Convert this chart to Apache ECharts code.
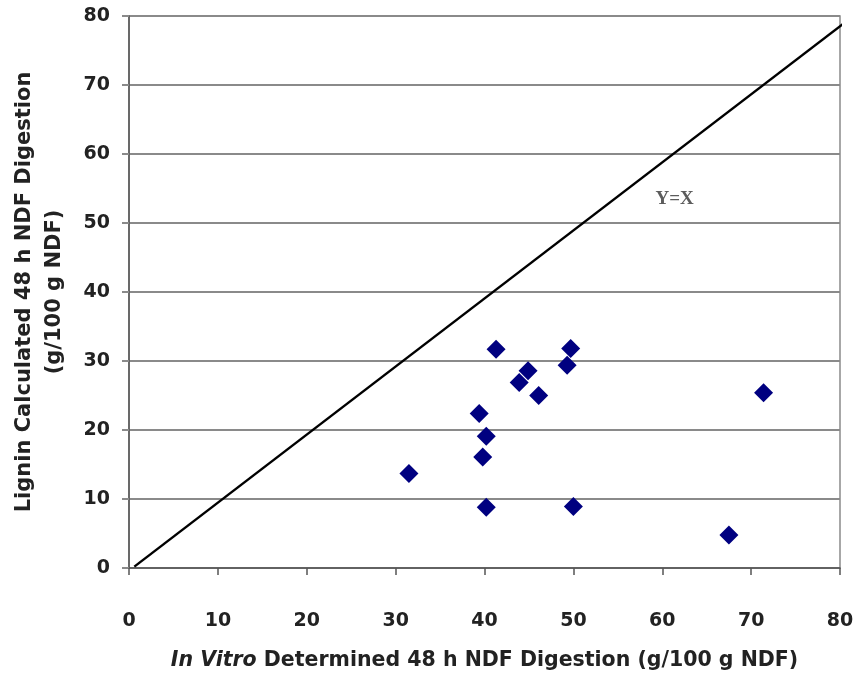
<!DOCTYPE html>
<html>
<head>
<meta charset="utf-8">
<script src="https://cdn.jsdelivr.net/npm/echarts@6/dist/echarts.min.js"></script>
<style>
html,body{margin:0;padding:0;background:#fff;}
#chart{width:856px;height:679px;}
</style>
</head>
<body>
<div id="chart"></div>
<script>
// In vitro determined 48 h NDF digestion (x) vs lignin calculated (y)
var inVitro = [31.5, 39.4, 40.2, 39.8, 40.2, 41.3, 43.9, 44.9, 46.1, 49.3, 49.7, 50.0, 67.5, 71.4];
var ligninCalc = [13.7, 22.4, 19.1, 16.1, 8.8, 31.7, 26.9, 28.6, 25.0, 29.4, 31.8, 8.9, 4.8, 25.4];
var identityX = [0.6, 80.6];
var identityY = [0.2, 79.1];
var axisTicks = [0, 10, 20, 30, 40, 50, 60, 70, 80];
var lineLabel = 'Y=X';
var xTitleItalic = 'In Vitro';
var xTitleRest = ' Determined 48 h NDF Digestion (g/100 g NDF)';
var yTitle = 'Lignin Calculated 48 h NDF Digestion\n(g/100 g NDF)';

var points = inVitro.map(function (v, i) { return [v, ligninCalc[i]]; });
var identity = identityX.map(function (v, i) { return [v, identityY[i]]; });
var FONT = 'DejaVu Sans';

var chart = echarts.init(document.getElementById('chart'));
chart.setOption({
  animation: false,
  backgroundColor: '#ffffff',
  grid: {
    left: 129, right: 16, top: 16, bottom: 111,
    containLabel: false, outerBoundsMode: 'none',
    show: true, borderColor: '#8a8a8a', borderWidth: 1.5, backgroundColor: 'transparent'
  },
  xAxis: {
    type: 'value', min: axisTicks[0], max: axisTicks[axisTicks.length - 1], interval: 10,
    axisLine: { show: true, onZero: false, lineStyle: { color: '#555', width: 1.5 } },
    axisTick: { show: true, inside: false, length: 7, lineStyle: { color: '#555', width: 1.5 } },
    splitLine: { show: false },
    axisLabel: { margin: 44, fontFamily: FONT, fontWeight: 'bold', fontSize: 19, color: '#222' },
    name: '{i|' + xTitleItalic + '}' + xTitleRest,
    nameLocation: 'middle', nameGap: 82,
    nameTextStyle: {
      fontFamily: FONT, fontWeight: 'bold', fontSize: 20.5, color: '#222',
      rich: { i: { fontFamily: FONT, fontWeight: 'bold', fontStyle: 'italic', fontSize: 20.5, color: '#222' } }
    }
  },
  yAxis: {
    type: 'value', min: axisTicks[0], max: axisTicks[axisTicks.length - 1], interval: 10,
    axisLine: { show: true, onZero: false, lineStyle: { color: '#555', width: 1.5 } },
    axisTick: { show: true, inside: false, length: 7, lineStyle: { color: '#8a8a8a', width: 2 } },
    splitLine: { show: true, lineStyle: { color: '#8a8a8a', width: 2 } },
    axisLabel: { margin: 19, fontFamily: FONT, fontWeight: 'bold', fontSize: 19, color: '#222' },
    name: yTitle,
    nameLocation: 'middle', nameGap: 59, nameRotate: 90,
    nameTextStyle: { fontFamily: FONT, fontWeight: 'bold', fontSize: 21, color: '#222', lineHeight: 30, align: 'center' }
  },
  series: [
    {
      type: 'line', data: identity, symbol: 'none', clip: false, silent: true,
      lineStyle: { color: '#000', width: 2.5 },
      z: 3
    },
    {
      type: 'scatter', data: points, symbol: 'diamond', symbolSize: 19,
      itemStyle: { color: '#000080', opacity: 1 }, z: 4
    },
    {
      type: 'scatter', data: [[61.4, 53.5]], symbolSize: 0, silent: true,
      label: {
        show: true, position: 'inside', formatter: lineLabel,
        fontFamily: 'Liberation Serif', fontWeight: 'bold', fontSize: 19, color: '#333'
      }
    }
  ]
});
</script>
</body>
</html>
